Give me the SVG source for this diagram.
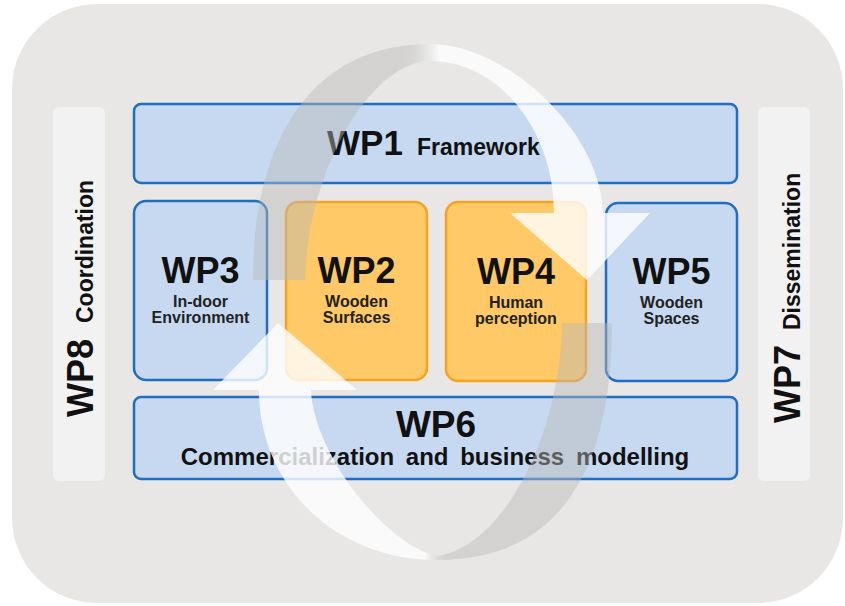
<svg xmlns="http://www.w3.org/2000/svg" width="845" height="606" viewBox="0 0 845 606">
<defs>
<style>
.bg{fill:#e8e7e5}
.side{fill:#f2f2f2}
.blue{fill:#c6d9f1;stroke:#1f6ec2;stroke-width:2.5}
.orange{fill:#fec966;stroke:#f6a323;stroke-width:2.5}
text{font-family:"Liberation Sans",Arial,sans-serif;font-weight:bold;fill:#111}
.big{font-size:36px}
.sub{font-size:16px;fill:#222}
.mid{text-anchor:middle}
</style>
<linearGradient id="g1" gradientUnits="userSpaceOnUse" x1="405" y1="0" x2="440" y2="0">
<stop offset="0" stop-color="#b9b9b9" stop-opacity="0.45"/>
<stop offset="1" stop-color="#ffffff" stop-opacity="0.8"/>
</linearGradient>
<linearGradient id="g2" gradientUnits="userSpaceOnUse" x1="425" y1="0" x2="445" y2="0">
<stop offset="0" stop-color="#ffffff" stop-opacity="0.8"/>
<stop offset="1" stop-color="#b9b9b9" stop-opacity="0.45"/>
</linearGradient>
</defs>
<rect class="bg" x="12" y="4" width="831" height="599" rx="85" ry="85"/>
<g id="wp8">
<rect class="side" x="53" y="107" width="52" height="374" rx="6"/>
<text transform="translate(93,417) rotate(-90)"><tspan class="big">WP8</tspan><tspan x="94" style="font-size:23px">Coordination</tspan></text>
</g>
<g id="wp7">
<rect class="side" x="758" y="107" width="52" height="374" rx="6"/>
<text transform="translate(800,423) rotate(-90)"><tspan class="big">WP7</tspan><tspan x="93" style="font-size:23px">Dissemination</tspan></text>
</g>
<g id="wp1">
<rect class="blue" x="134" y="104" width="603" height="79" rx="7"/>
<text x="327" y="155" style="font-size:35px">WP1</text>
<text x="417" y="155" style="font-size:23px">Framework</text>
</g>
<g id="wp3">
<rect class="blue" x="134" y="201" width="133" height="179" rx="12"/>
<text class="big mid" x="200.5" y="283">WP3</text>
<text class="sub mid" x="200.5" y="307">In-door</text>
<text class="sub mid" x="200.5" y="323">Environment</text>
</g>
<g id="wp2">
<rect class="orange" x="286" y="202" width="141" height="178" rx="12"/>
<text class="big mid" x="356.5" y="283">WP2</text>
<text class="sub mid" x="356.5" y="307">Wooden</text>
<text class="sub mid" x="356.5" y="323">Surfaces</text>
</g>
<g id="wp4">
<rect class="orange" x="446" y="202" width="140" height="179" rx="12"/>
<text class="big mid" x="516" y="284">WP4</text>
<text class="sub mid" x="516" y="308">Human</text>
<text class="sub mid" x="516" y="324">perception</text>
</g>
<g id="wp5">
<rect class="blue" x="606" y="203" width="131" height="178" rx="12"/>
<text class="big mid" x="671.5" y="284">WP5</text>
<text class="sub mid" x="671.5" y="308">Wooden</text>
<text class="sub mid" x="671.5" y="324">Spaces</text>
</g>
<g id="wp6">
<rect class="blue" x="134" y="397" width="603" height="82" rx="7"/>
<text class="mid" x="436" y="437" style="font-size:37px">WP6</text>
<text class="mid" x="435" y="465" style="font-size:24px;word-spacing:5px">Commercialization and business modelling</text>
</g>
<g id="connectors">
<path fill="url(#g1)" d="M253,280 C253,131 318,44 430,44 C505,44 601,130 603,213 L650,213 L587,280 L510,213 L554,213 C554,129 498,61 430,61 C370,62 308,170 305,280 Z"/>
<path fill="url(#g2)" d="M612,323 C612,470 560,560 437,560 C335,560 259,485 259,390 L213,390 L278,323 L357,390 L311,390 C313,450 380,540 435,556 C500,550 560,440 562,323 Z"/>
</g>
</svg>
